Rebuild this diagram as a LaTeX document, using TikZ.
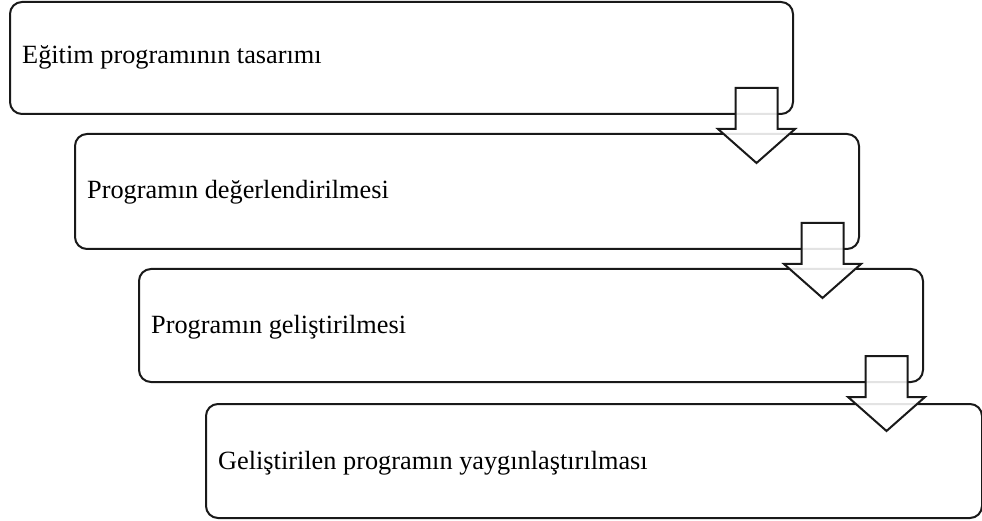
\documentclass[tikz,border=0pt]{standalone}
\usepackage{fontspec}
\setmainfont{Liberation Serif}
\begin{document}
\begin{tikzpicture}[x=1pt,y=-1pt,
  stage/.style={draw=black!90,line width=2pt,rounded corners=12pt,anchor=north west,inner sep=0pt},
  label/.style={anchor=base west,inner sep=0pt,font=\fontsize{26.3}{30}\selectfont},
  blockarrow/.pic={\path[draw=black!90,line width=2pt,fill=white,fill opacity=0.88,line join=miter]
    (-21,0) -- (21,0) -- (21,41) -- (38.5,41) -- (0,75) -- (-38.5,41) -- (-21,41) -- cycle;}]
\useasboundingbox (0,0) rectangle (982,521);
\node[stage,minimum width=783pt,minimum height=112pt] (b1) at (9,1) {};
\node[stage,minimum width=784pt,minimum height=115pt] (b2) at (74,133) {};
\node[stage,minimum width=784pt,minimum height=113pt] (b3) at (138,268) {};
\node[stage,minimum width=776pt,minimum height=114pt] (b4) at (205,403) {};
\node[label] (t1) at ([xshift=13pt,yshift=-6pt]b1.west) {Eğitim programının tasarımı};
\node[label] (t2) at ([xshift=13pt,yshift=-7.5pt]b2.west) {Programın değerlendirilmesi};
\node[label] (t3) at ([xshift=13pt,yshift=-7.5pt]b3.west) {Programın geliştirilmesi};
\node[label] (t4) at ([xshift=13pt,yshift=-8pt]b4.west) {Geliştirilen programın yaygınlaştırılması};
\pic at ([xshift=-37.5pt,yshift=27pt]b1.south east) {blockarrow};
\pic at ([xshift=-37.5pt,yshift=27pt]b2.south east) {blockarrow};
\pic at ([xshift=-37.5pt,yshift=27pt]b3.south east) {blockarrow};
\end{tikzpicture}
\end{document}
